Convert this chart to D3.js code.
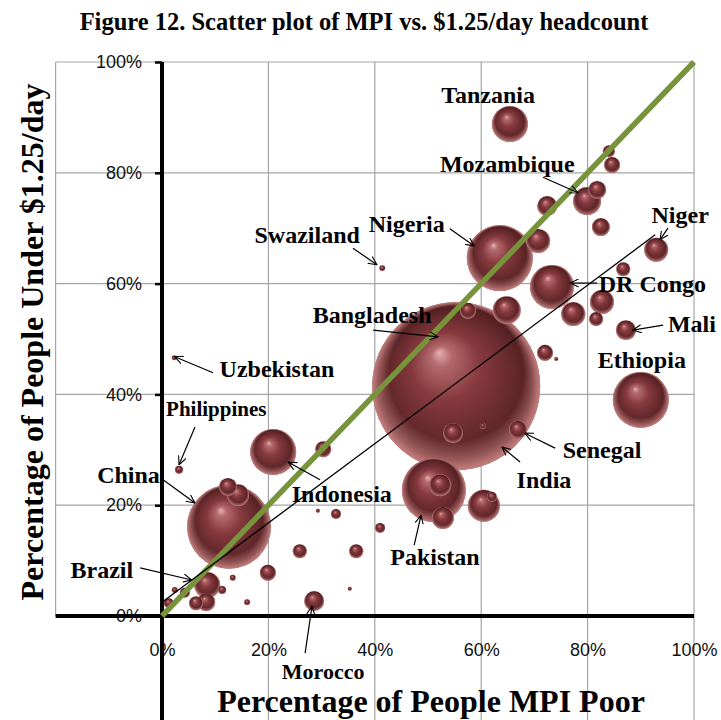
<!DOCTYPE html>
<html>
<head>
<meta charset="utf-8">
<script src="https://cdn.jsdelivr.net/npm/d3@7/dist/d3.min.js"></script>
<style>
  html, body { margin: 0; padding: 0; background: #fff; }
  svg { display: block; }
</style>
</head>
<body>
<script>
// ---------------- DATA ----------------
// x: percentage of people MPI poor, y: percentage under $1.25/day, size: number of MPI poor (millions)
const countries = ["Tanzania","Mozambique","","","","","","Niger","","Nigeria","","DR Congo","","","","","","Mali","Ethiopia","","","India","","","Senegal","Indonesia","","Pakistan","","","","","","","","","","","","Morocco","Philippines","China","","","","","Brazil","","","","","","","Swaziland","Uzbekistan"];
const mpiPoor = [65.4,79.9,81.8,84.0,84.6,72.4,82.5,92.9,86.7,63.5,70.7,73.3,64.8,57.5,82.7,77.3,81.6,87.2,90.0,72.0,74.1,55.3,54.7,60.3,66.9,20.9,30.3,51.1,52.3,52.8,60.5,62.0,29.3,32.7,41.0,25.9,36.5,19.9,35.3,28.6,3.2,12.6,12.4,14.3,13.3,16.0,8.5,11.3,4.3,8.3,6.4,1.3,2.4,41.4,2.3];
const under125 = [88.8,74.9,76.9,83.9,81.4,74.0,70.2,66.1,62.6,64.6,67.7,59.4,55.2,55.1,56.7,54.5,53.6,51.6,39.0,47.5,46.4,41.5,33.0,34.3,33.6,29.6,30.1,22.7,23.6,17.7,19.9,21.5,19.0,18.4,15.9,11.7,11.7,7.8,4.9,2.7,26.4,16.1,23.3,21.8,6.9,2.5,5.6,4.7,4.2,2.5,2.3,2.3,4.7,62.8,46.6];
const poorMillions = [29.6,17.9,7.4,3.3,5.9,9.1,7.4,13.2,4.5,99.5,13.2,44.2,17.9,5.9,13.2,13.2,4.5,9.1,71.7,5.9,0.37,645,9.1,0.8,7.4,48.4,5.9,93.6,11.1,11.1,23.4,2.3,0.37,2.3,2.3,4.5,4.5,5.9,0.37,9.1,1.5,161,7.4,11.1,0.8,0.8,15.4,1.5,2.3,7.4,4.5,2.3,0.8,0.8,0.57];

const xTicks = [0,20,40,60,80,100];
const yTicks = [0,20,40,60,80,100];
const gridX = [-20,0,20,40,60,80,100];
const gridY = [20,40,60,80,100];

// trend line (fitted) endpoints, data units
const trendX = [0, 92.7];
const trendY = [2.5, 68.8];

// annotation labels (data units): text position, arrow start and arrow end
const labelText = ["Tanzania","Mozambique","Nigeria","Swaziland","Niger","DR Congo","Bangladesh","Mali","Ethiopia","Uzbekistan","Philippines","Senegal","India","Indonesia","Pakistan","China","Brazil","Morocco"];
const labelX =   [61.3, 64.9, 46.0, 37.2, 97.4, 82.1, 39.5, 95.1, 90.2, 21.6, 10.2, 82.7, 71.8, 33.8, 51.3, -0.4, -11.3, 30.3];
const labelY =   [92.6, 80.1, 69.3, 67.3, 70.9, 58.5, 52.9, 51.3, 44.8, 43.1, 36.1, 28.5, 23.1, 20.6, 9.2, 24.0, 6.9, -11.37];
const labelAnchor = ["middle","middle","middle","end","middle","start","middle","start","middle","middle","middle","middle","middle","middle","middle","end","middle","middle"];
const labelSize = [24,24,24,24,24,24,24,24,24,24,21,24,24,24,24,24,24,22];
const arrowX1 = [null, 71.6, 54.1, 35.9, 95.1, 81.8, 39.7, 94.2, null, 9.6, 6.2, 73.9, 67.3, 29.7, 47.4, 0.2, -4.1, 26.9];
const arrowY1 = [null, 79.2, 69.9, 66.4, 70.0, 60.1, 51.6, 52.5, null, 43.9, 34.1, 30.3, 27.8, 24.6, 12.8, 24.6, 8.7, -6.7];
const arrowX2 = [null, 78.2, 58.7, 40.4, 93.6, 76.7, 51.9, 88.5, null, 2.4, 3.2, 68.2, 63.9, 23.7, 48.7, 6.2, 5.6, 28.2];
const arrowY2 = [null, 76.4, 66.8, 63.4, 67.9, 60.1, 50.4, 51.6, null, 46.8, 27.3, 33.0, 30.5, 27.8, 18.2, 20.4, 6.5, 1.8];

// ---------------- CHART ----------------
const W = 721, H = 720;
const svg = d3.select("body").append("svg").attr("width", W).attr("height", H);

const x = d3.scaleLinear().domain([0, 100]).range([162, 694]);
const y = d3.scaleLinear().domain([0, 100]).range([616, 62]);
const r = d3.scaleSqrt().domain([0, 645]).range([0, 84]);

const serif = "'Liberation Serif', 'Times New Roman', serif";
const sans = "'Liberation Sans', Arial, sans-serif";

// gradients
const defs = svg.append("defs");
const g1 = defs.append("radialGradient").attr("id", "ball")
  .attr("cx", 0.5).attr("cy", 0.5).attr("r", 0.5).attr("fx", 0.4).attr("fy", 0.3);
[[0, "#e6b0b0"], [0.12, "#b46a6c"], [0.4, "#863a3e"], [0.75, "#63282b"], [0.92, "#521e1f"], [1, "#6e3336"]]
  .forEach(s => g1.append("stop").attr("offset", s[0]).attr("stop-color", s[1]));
const g2 = defs.append("radialGradient").attr("id", "rim")
  .attr("cx", 0.5).attr("cy", 0.5).attr("r", 0.5).attr("fx", 0.5).attr("fy", 0.12);
[[0, "rgba(230,160,160,0)"], [0.8, "rgba(230,160,160,0)"], [1, "rgba(225,150,150,0.75)"]]
  .forEach(s => g2.append("stop").attr("offset", s[0]).attr("stop-color", s[1]));

const mk = defs.append("marker").attr("id", "arr")
  .attr("viewBox", "0 0 10 10").attr("refX", 9.5).attr("refY", 5)
  .attr("markerWidth", 9).attr("markerHeight", 9).attr("markerUnits", "userSpaceOnUse")
  .attr("orient", "auto");
mk.append("path").attr("d", "M0,0.5 L9.5,5 L0,9.5").attr("fill", "none").attr("stroke", "#000").attr("stroke-width", 1.2);

// title
svg.append("text").attr("x", 364).attr("y", 30).attr("text-anchor", "middle")
  .attr("font-family", serif).attr("font-weight", "bold").attr("font-size", 24.5)
  .text("Figure 12. Scatter plot of MPI vs. $1.25/day headcount");

// grid
const grid = svg.append("g").attr("stroke", "#a6a6a6").attr("stroke-width", 1.2);
grid.selectAll("line.gx").data(gridX).join("line")
  .attr("x1", d => x(d)).attr("x2", d => x(d))
  .attr("y1", y(100)).attr("y2", d => d < 0 ? y(0) : H);
grid.selectAll("line.gy").data(gridY).join("line")
  .attr("x1", x(-20)).attr("x2", x(100))
  .attr("y1", d => y(d)).attr("y2", d => y(d));

// y axis ticks + labels
const yAxis = svg.append("g").attr("transform", `translate(${x(0)},0)`)
  .call(d3.axisLeft(y).tickValues(yTicks).tickFormat(d => d + "%").tickSize(7).tickPadding(13));
yAxis.select(".domain").remove();
yAxis.selectAll(".tick line").attr("stroke", "#000").attr("stroke-width", 2.5);
yAxis.selectAll(".tick text").attr("font-family", sans).attr("font-size", 18).attr("fill", "#111");

// x axis labels
const xAxis = svg.append("g").attr("transform", `translate(0,${y(0)})`)
  .call(d3.axisBottom(x).tickValues(xTicks).tickFormat(d => d + "%").tickSize(0).tickPadding(27));
xAxis.select(".domain").remove();
xAxis.selectAll(".tick text").attr("font-family", sans).attr("font-size", 18).attr("fill", "#111");

// thick axis lines
svg.append("line").attr("x1", x(-20)).attr("x2", x(100)).attr("y1", y(0)).attr("y2", y(0))
  .attr("stroke", "#000").attr("stroke-width", 4);
svg.append("line").attr("x1", x(0)).attr("x2", x(0)).attr("y1", y(100)).attr("y2", H)
  .attr("stroke", "#000").attr("stroke-width", 4);

// axis titles
svg.append("text").attr("x", 431).attr("y", 712).attr("text-anchor", "middle")
  .attr("font-family", serif).attr("font-weight", "bold").attr("font-size", 32)
  .text("Percentage of People MPI Poor");
svg.append("text").attr("transform", "translate(43,342) rotate(-90)").attr("text-anchor", "middle")
  .attr("font-family", serif).attr("font-weight", "bold").attr("font-size", 32)
  .text("Percentage of People Under $1.25/day");

// bubbles
const data = mpiPoor.map((v, i) => ({ name: countries[i], x: v, y: under125[i], s: poorMillions[i] }))
  .sort((a, b) => b.s - a.s);
const bub = svg.append("g");
const bg = bub.selectAll("g").data(data).join("g");
bg.append("circle").attr("cx", d => x(d.x)).attr("cy", d => y(d.y)).attr("r", d => r(d.s)).attr("fill", "url(#ball)");
bg.append("circle").attr("cx", d => x(d.x)).attr("cy", d => y(d.y)).attr("r", d => r(d.s)).attr("fill", "url(#rim)");

// 45-degree line
svg.append("line").attr("x1", x(0)).attr("y1", y(0)).attr("x2", x(100)).attr("y2", y(100))
  .attr("stroke", "#77933c").attr("stroke-width", 5.5);
// trend line
svg.append("line").attr("x1", x(trendX[0])).attr("y1", y(trendY[0])).attr("x2", x(trendX[1])).attr("y2", y(trendY[1]))
  .attr("stroke", "#000").attr("stroke-width", 1.3);

// annotations
const ann = svg.append("g");
labelText.forEach((t, i) => {
  ann.append("text").attr("x", x(labelX[i])).attr("y", y(labelY[i]))
    .attr("text-anchor", labelAnchor[i])
    .attr("font-family", serif).attr("font-weight", "bold")
    .attr("font-size", labelSize[i]).attr("fill", "#000").text(t);
  if (arrowX1[i] !== null) {
    ann.append("line").attr("x1", x(arrowX1[i])).attr("y1", y(arrowY1[i]))
      .attr("x2", x(arrowX2[i])).attr("y2", y(arrowY2[i]))
      .attr("stroke", "#000").attr("stroke-width", 1.2).attr("marker-end", "url(#arr)");
  }
});
</script>
</body>
</html>
